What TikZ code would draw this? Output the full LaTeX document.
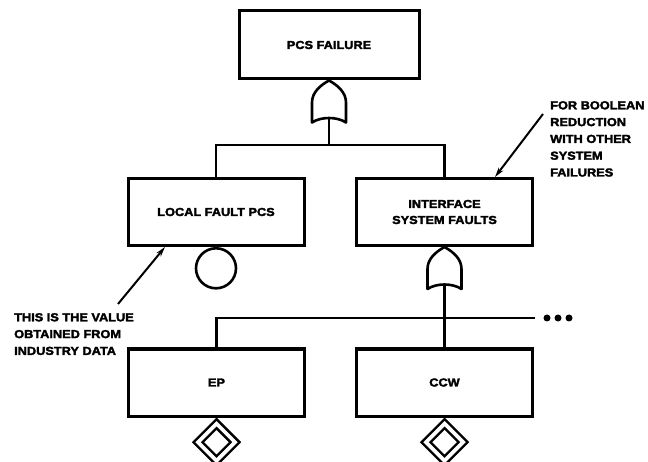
\documentclass[tikz,border=0pt]{standalone}
\usepackage{fontspec}
\newfontfamily\heavyfont{Liberation Sans Bold}[FakeStretch=1.1,FakeBold=2.5]
\usetikzlibrary{shapes.geometric,arrows.meta,calc}

\tikzset{
  eventbox/.style={draw, line width=3pt, rectangle, minimum width=176pt,
    minimum height=67pt, inner sep=0pt, align=center,
    font=\heavyfont\fontsize{11.6}{16}\selectfont},
  wire/.style={line width=2.5pt},
  gateline/.style={line width=2.6pt, line join=round},
  pointer/.style={line width=2pt, -{Stealth[length=10pt,width=5.5pt]}},
  note/.style={align=left, inner sep=0pt,
    font=\heavyfont\fontsize{11.6}{16.8}\selectfont},
  basicevent/.style={draw, circle, line width=2.6pt, minimum size=40pt, inner sep=0pt},
  undevouter/.style={draw, diamond, line width=2.3pt, minimum width=47pt,
    minimum height=47pt, inner sep=0pt},
  undevinner/.style={draw, diamond, line width=2.3pt, minimum width=29pt,
    minimum height=29pt, inner sep=0pt},
  ellipsisdot/.style={circle, fill, minimum size=7pt, inner sep=0pt},
  orgate/.pic={
    \draw[gateline] (0,0) .. controls (9,5) and (17,12) .. (17,22)
      -- (17,42) .. controls (8,36) and (-8,36) .. (-17,42)
      -- (-17,22) .. controls (-17,12) and (-9,5) .. cycle;
  }
}

\begin{document}
\begin{tikzpicture}[x=1pt,y=-1pt]
  \fill[white] (0,0) rectangle (648,462);
  \useasboundingbox (0,0) rectangle (648,462);

  % events
  \node[eventbox, minimum width=180pt, minimum height=68pt] (top) at (329,45) {PCS FAILURE};
  \node[eventbox] (local) at (216,212) {LOCAL FAULT PCS};
  \node[eventbox] (iface) at (444.5,212) {INTERFACE\\SYSTEM FAULTS};
  \node[eventbox] (ep) at (216.5,382.5) {EP};
  \node[eventbox] (ccw) at (444.5,382.5) {CCW};

  % gates
  \pic at (top.south) {orgate};
  \coordinate (g1) at ($(top.south)+(0,37.5)$);
  \pic at (iface.south) {orgate};
  \coordinate (g2) at ($(iface.south)+(0,37.5)$);

  % top OR gate inputs
  \coordinate (j1) at (329,145);
  \draw[wire] (g1) -- (j1);
  \draw[wire] (local.north) |- (j1) -| (iface.north);

  % interface OR gate inputs
  \coordinate (j2) at (444.5,318);
  \coordinate (busend) at (535,318);
  \draw[wire] (g2) -- (j2) -- (ccw.north);
  \draw[wire] (ep.north) |- (busend);
  \node[ellipsisdot] (d1) at (547,318) {};
  \node[ellipsisdot] (d2) at (558,318) {};
  \node[ellipsisdot] (d3) at (569,318) {};

  % basic and undeveloped events
  \node[basicevent, anchor=north] (bas) at (local.south) {};
  \node[undevouter, anchor=north] (epd) at (ep.south) {};
  \node[undevinner] (epdi) at (epd.center) {};
  \node[undevouter, anchor=north] (ccwd) at (ccw.south) {};
  \node[undevinner] (ccwdi) at (ccwd.center) {};

  % notes
  \node[note, anchor=north west] (note1) at (14,313)
    {THIS IS THE VALUE\\OBTAINED FROM\\INDUSTRY DATA};
  \coordinate (note1tail) at (118,304);
  \draw[pointer] (note1tail) -- ([xshift=-51pt]local.south);

  \node[note, anchor=north west] (note2) at (550,101)
    {FOR BOOLEAN\\REDUCTION\\WITH OTHER\\SYSTEM\\FAILURES};
  \coordinate (note2tail) at (543,114);
  \draw[pointer] (note2tail) -- ([xshift=50.5pt]iface.north);
\end{tikzpicture}
\end{document}
